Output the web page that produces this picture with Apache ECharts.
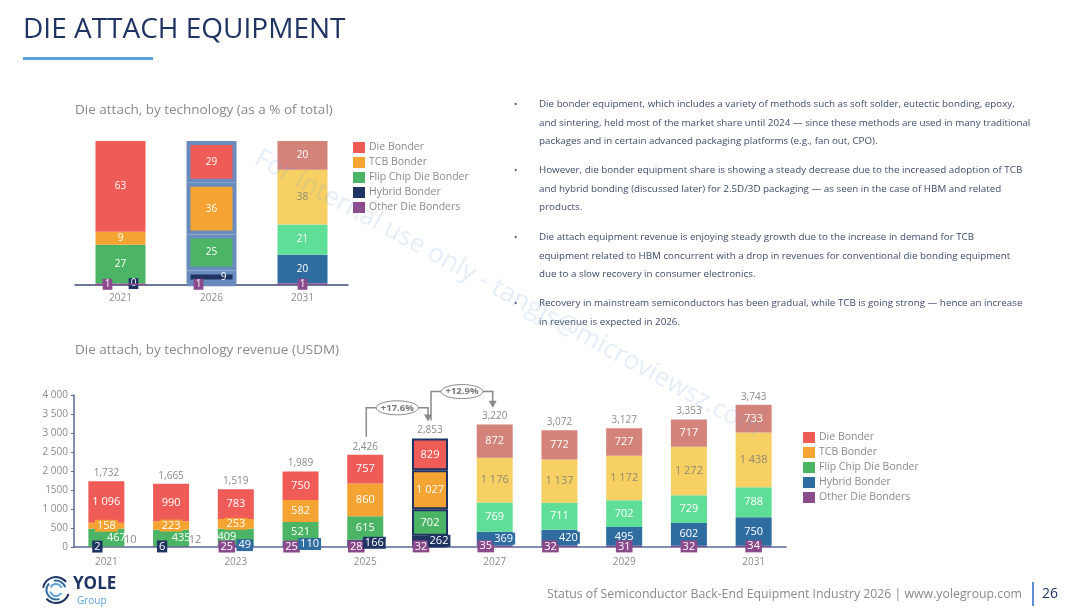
<!DOCTYPE html>
<html>
<head>
<meta charset="utf-8">
<script src="https://cdn.jsdelivr.net/npm/echarts@6/dist/echarts.min.js"></script>
<style>
html, body { margin: 0; padding: 0; background: #fff; }
#main { width: 1080px; height: 615px; }
</style>
</head>
<body>
<div id="main"></div>
<script>
// share of total (%)
var shareYears = ['2021', '2026', '2031'];
var shareDie = [63, 29, 20];
var shareTcb = [9, 36, 38];
var shareFlip = [27, 25, 21];
var shareHybrid = [0, 9, 20];
var shareOther = [1, 1, 1];

// revenue (USDM)
var years = ['2021', '2022', '2023', '2024', '2025', '2026', '2027', '2028', '2029', '2030', '2031'];
var dieBonder = [1096, 990, 783, 750, 757, 829, 872, 772, 727, 717, 733];
var tcbBonder = [158, 223, 253, 582, 860, 1027, 1176, 1137, 1172, 1272, 1438];
var flipChip = [467, 435, 409, 521, 615, 702, 769, 711, 702, 729, 788];
var hybridBonder = [2, 6, 49, 110, 166, 262, 369, 420, 495, 602, 750];
var otherBonders = [10, 12, 25, 25, 28, 32, 35, 32, 31, 32, 34];
var totals = [1732, 1665, 1519, 1989, 2426, 2853, 3220, 3072, 3127, 3353, 3743];
var yTickLabels = ['0', '500', '1 000', '1500', '2 000', '2 500', '3 000', '3 500', '4 000'];
var growth = [
	{ from: 4, to: 5, text: '+17.6%' },
	{ from: 5, to: 6, text: '+12.9%' }
];

var C = {
	die: '#EF5B57', tcb: '#F5A332', flip: '#4CB565', navy: '#1F3462', other: '#8B4A8C',
	dieF: '#D4837B', tcbF: '#F7D064', flipF: '#5FDE97', blue: '#2F6CA0'
};
var FONT = '"Open Sans", sans-serif';
var GRAY = '#8a8a8a';

function fmt(v) {
	return v >= 1000 ? Math.floor(v / 1000) + ' ' + String(v % 1000).padStart(3, '0') : String(v);
}

// ---- top chart data items ----
function shareColor(key, i) {
	var f = i === 2;
	if (key === 'die') return f ? C.dieF : C.die;
	if (key === 'tcb') return f ? C.tcbF : C.tcb;
	if (key === 'flip') return f ? C.flipF : C.flip;
	if (key === 'hybrid') return f ? C.blue : C.navy;
	return C.other;
}
function shareItems(vals, key) {
	return vals.map(function(v, i) {
		var it = { value: v, itemStyle: { color: shareColor(key, i) }, label: {} };
		if (i === 1) {
			it.itemStyle.borderColor = '#6A8BBE';
			it.itemStyle.borderWidth = 4;
		}
		if (key === 'tcb' && i === 2) it.label.color = '#8f8a70';
		if (key === 'other') {
			it.label = { backgroundColor: C.other, padding: [1, 2, 0, 2], offset: [i < 2 ? -13 : 0, 0] };
		}
		if (key === 'hybrid') {
			if (i === 0) it.label = { backgroundColor: C.navy, padding: [1, 2, 0, 2], offset: [13, 0] };
			if (i === 1) it.label = { offset: [12, 0] };
		}
		return it;
	});
}

// ---- bottom chart data items ----
function revColor(key, i) {
	var f = i >= 6;
	if (key === 'die') return f ? C.dieF : C.die;
	if (key === 'tcb') return f ? C.tcbF : C.tcb;
	if (key === 'flip') return f ? C.flipF : C.flip;
	if (key === 'hybrid') return [0, 1, 4, 5].indexOf(i) >= 0 ? C.navy : C.blue;
	return C.other;
}
function revItems(vals, key) {
	return vals.map(function(v, i) {
		var col = revColor(key, i);
		var it = { value: v, itemStyle: { color: col }, label: {} };
		if (i === 5) {
			it.itemStyle.borderColor = C.navy;
			it.itemStyle.borderWidth = 2;
		}
		if (key === 'tcb') {
			if (i < 3) it.label = { backgroundColor: col, padding: [1, 2, 0, 2] };
			if (i >= 6) it.label = { color: '#8f8a70' };
		}
		if (key === 'flip') {
			if (i < 2) it.label = { offset: [10, 0] };
			if (i === 2) it.label = { offset: [-9, 0] };
		}
		if (key === 'hybrid') {
			if (i < 2) it.label = { backgroundColor: col, padding: [1, 2, 0, 2], offset: [-9, 0] };
			else if (i < 8) it.label = { backgroundColor: col, padding: [1, 2, 0, 2], offset: [9, 0] };
		}
		if (key === 'other') {
			if (i < 2) it.label = { color: GRAY, offset: [24, -7] };
			else it.label = { backgroundColor: C.other, padding: [1, 2, 0, 2], offset: [i < 8 ? -9 : 0, 0] };
		}
		return it;
	});
}

var segLabel = {
	show: true, position: 'inside', color: '#fff', fontFamily: FONT, fontSize: 11,
	formatter: function(p) { return fmt(p.value); }
};
var shareLabel = {
	show: true, position: 'inside', color: '#fff', fontFamily: FONT, fontSize: 10,
	formatter: function(p) { return String(p.value); }
};

function legendData(hybridColor) {
	return [
		{ name: 'Die Bonder', itemStyle: { color: C.die } },
		{ name: 'TCB Bonder', itemStyle: { color: C.tcb } },
		{ name: 'Flip Chip Die Bonder', itemStyle: { color: C.flip } },
		{ name: 'Hybrid Bonder', itemStyle: { color: hybridColor } },
		{ name: 'Other Die Bonders', itemStyle: { color: C.other } }
	];
}
var legendBase = {
	orient: 'vertical', icon: 'rect', itemWidth: 12, itemHeight: 11, itemGap: 4,
	padding: 0, selectedMode: false,
	textStyle: { color: GRAY, fontFamily: FONT, fontSize: 10.5, padding: [0, 0, 0, -1] }
};

var option = {
	animation: false,
	textStyle: { fontFamily: FONT },
	grid: [
		{ left: 75, top: 141, width: 273, height: 144 },
		{ left: 74, top: 395, width: 712, height: 152 }
	],
	legend: [
		Object.assign({ left: 353, top: 142, data: legendData(C.navy) }, legendBase),
		Object.assign({ left: 803, top: 432, data: legendData(C.blue) }, legendBase)
	],
	xAxis: [{
		gridIndex: 0, type: 'category', data: shareYears,
		axisLine: { lineStyle: { color: '#3C4B73', width: 1.5 } },
		axisTick: { show: false },
		axisLabel: { color: GRAY, fontSize: 10, margin: 8 }
	}, {
		gridIndex: 1, type: 'category', data: years,
		axisLine: { lineStyle: { color: '#5A6A95', width: 1.5 } },
		axisTick: { show: false },
		axisLabel: { interval: 1, color: GRAY, fontSize: 10, margin: 10 }
	}],
	yAxis: [{
		gridIndex: 0, type: 'value', min: 0, max: 100, show: false
	}, {
		gridIndex: 1, type: 'value', min: 0, max: 4000, interval: 500,
		axisLine: { show: true, lineStyle: { color: '#5A6A95', width: 1.5 } },
		axisTick: { show: true, length: 3, lineStyle: { color: '#5A6A95' } },
		splitLine: { show: false },
		axisLabel: {
			color: GRAY, fontSize: 10, margin: 6,
			formatter: function(v, idx) { return yTickLabels[idx]; }
		}
	}],
	series: [
		// top chart, stacked from bottom
		{ name: 'Other Die Bonders', type: 'bar', stack: 'share', xAxisIndex: 0, yAxisIndex: 0, barWidth: 50, label: shareLabel, data: shareItems(shareOther, 'other'), z: 3 },
		{ name: 'Hybrid Bonder', type: 'bar', stack: 'share', xAxisIndex: 0, yAxisIndex: 0, barWidth: 50, label: shareLabel, data: shareItems(shareHybrid, 'hybrid') },
		{ name: 'Flip Chip Die Bonder', type: 'bar', stack: 'share', xAxisIndex: 0, yAxisIndex: 0, barWidth: 50, label: shareLabel, data: shareItems(shareFlip, 'flip') },
		{ name: 'TCB Bonder', type: 'bar', stack: 'share', xAxisIndex: 0, yAxisIndex: 0, barWidth: 50, label: shareLabel, data: shareItems(shareTcb, 'tcb') },
		{ name: 'Die Bonder', type: 'bar', stack: 'share', xAxisIndex: 0, yAxisIndex: 0, barWidth: 50, label: shareLabel, data: shareItems(shareDie, 'die') },
		// bottom chart
		{ name: 'Other Die Bonders', type: 'bar', stack: 'rev', xAxisIndex: 1, yAxisIndex: 1, barWidth: 36, label: segLabel, data: revItems(otherBonders, 'other') },
		{ name: 'Hybrid Bonder', type: 'bar', stack: 'rev', xAxisIndex: 1, yAxisIndex: 1, barWidth: 36, label: segLabel, data: revItems(hybridBonder, 'hybrid') },
		{ name: 'Flip Chip Die Bonder', type: 'bar', stack: 'rev', xAxisIndex: 1, yAxisIndex: 1, barWidth: 36, label: segLabel, data: revItems(flipChip, 'flip') },
		{ name: 'TCB Bonder', type: 'bar', stack: 'rev', xAxisIndex: 1, yAxisIndex: 1, barWidth: 36, label: segLabel, data: revItems(tcbBonder, 'tcb') },
		{ name: 'Die Bonder', type: 'bar', stack: 'rev', xAxisIndex: 1, yAxisIndex: 1, barWidth: 36, label: segLabel, data: revItems(dieBonder, 'die') },
		{
			name: 'Total', type: 'bar', xAxisIndex: 1, yAxisIndex: 1, barWidth: 36, barGap: '-100%',
			silent: true, itemStyle: { color: 'rgba(0,0,0,0)' }, z: 1,
			label: {
				show: true, position: 'top', distance: 3, color: GRAY, fontSize: 10,
				formatter: function(p) { return p.value.toLocaleString('en-US'); }
			},
			data: totals
		}
	]
};

var chart = echarts.init(document.getElementById('main'));
chart.setOption(option);

// ---- static slide text ----
var g = [];
function txt(x, y, s, font, fill, align, extra) {
	var el = { type: 'text', x: x, y: y, silent: true, style: { text: s, font: font, fill: fill, align: align || 'left', verticalAlign: 'middle' } };
	return Object.assign(el, extra || {});
}
g.push(txt(23, 30, 'DIE ATTACH EQUIPMENT', '400 28px ' + FONT, '#1F3462'));
g.push({ type: 'rect', silent: true, shape: { x: 23, y: 57, width: 130, height: 3 }, style: { fill: '#5FA3DB' } });
g.push(txt(75, 110, 'Die attach, by technology (as a % of total)', '13.5px ' + FONT, GRAY));
g.push(txt(75, 350, 'Die attach, by technology revenue (USDM)', '13.5px ' + FONT, GRAY));

var bullets = [
	{ y: 104, lines: ['Die bonder equipment, which includes a variety of methods such as soft solder, eutectic bonding, epoxy,',
		'and sintering, held most of the market share until 2024 \u2014 since these methods are used in many traditional',
		'packages and in certain advanced packaging platforms (e.g., fan out, CPO).'] },
	{ y: 170, lines: ['However, die bonder equipment share is showing a steady decrease due to the increased adoption of TCB',
		'and hybrid bonding (discussed later) for 2.5D/3D packaging \u2014 as seen in the case of HBM and related',
		'products.'] },
	{ y: 237, lines: ['Die attach equipment revenue is enjoying steady growth due to the increase in demand for TCB',
		'equipment related to HBM concurrent with a drop in revenues for conventional die bonding equipment',
		'due to a slow recovery in consumer electronics.'] },
	{ y: 303, lines: ['Recovery in mainstream semiconductors has been gradual, while TCB is going strong \u2014 hence an increase',
		'in revenue is expected in 2026.'] }
];
bullets.forEach(function(b) {
	g.push(txt(514, b.y, '\u2022', '9px ' + FONT, '#3F4B6B'));
	b.lines.forEach(function(l, k) {
		g.push(txt(539, b.y + k * 18.8, l, '9.8px ' + FONT, '#3F4B6B'));
	});
});

// growth callouts, positioned from the axes
growth.forEach(function(gr) {
	var a = chart.convertToPixel({ gridIndex: 1 }, [gr.from, totals[gr.from]]);
	var b = chart.convertToPixel({ gridIndex: 1 }, [gr.to, totals[gr.to]]);
	var x1 = a[0] + 1, y1 = a[1] - 18, yE = y1 - 29;
	var cx = x1 + 31, xA = b[0] - 2, yT = b[1] - 17;
	var ln = { stroke: '#8a8a8a', lineWidth: 1.5, fill: null };
	g.push({ type: 'polyline', silent: true, shape: { points: [[x1, y1], [x1, yE], [cx - 20, yE]] }, style: ln });
	g.push({ type: 'polyline', silent: true, shape: { points: [[cx + 20, yE], [xA, yE], [xA, yT - 6]] }, style: ln });
	g.push({ type: 'polygon', silent: true, shape: { points: [[xA - 4, yT - 7], [xA + 4, yT - 7], [xA, yT]] }, style: { fill: '#8a8a8a' } });
	g.push({ type: 'ellipse', silent: true, shape: { cx: cx, cy: yE, rx: 21, ry: 7 }, style: { fill: '#fff', stroke: '#8a8a8a', lineWidth: 1 } });
	g.push(txt(cx, yE, gr.text, 'bold 9.5px ' + FONT, '#777', 'center'));
});

// footer
g.push(txt(1022, 594, 'Status of Semiconductor Back-End Equipment Industry 2026 | www.yolegroup.com', '12.3px ' + FONT, GRAY, 'right'));
g.push({ type: 'line', silent: true, shape: { x1: 1033, y1: 582, x2: 1033, y2: 606 }, style: { stroke: '#5B8FD0', lineWidth: 2 } });
g.push(txt(1050, 594, '26', '14px ' + FONT, '#1F3462', 'center'));

// logo
[[13, '#1F3462', 0.3, 2.4], [13, '#1F3462', 3.3, 5.6], [9.5, '#2F6CA0', 1.2, 3.9], [9.5, '#2F6CA0', 4.5, 6.0], [6, '#5FA3DB', 0.5, 2.9], [6, '#5FA3DB', 3.6, 5.9]].forEach(function(r) {
	g.push({ type: 'arc', silent: true, shape: { cx: 56, cy: 590, r: r[0], startAngle: r[2], endAngle: r[3] }, style: { stroke: r[1], lineWidth: 2, fill: null } });
});
g.push(txt(73, 584, 'YOLE', 'bold 17px ' + FONT, '#1F3462'));
g.push(txt(77, 601, 'Group', '10px ' + FONT, '#5FA3DB'));

// watermark
g.push({ type: 'text', x: 508, y: 294, rotation: -0.5, silent: true, z: 100,
	style: { text: 'For internal use only - tangjs@microviewsz.com', font: '26px ' + FONT, fill: 'rgba(110,160,215,0.18)', align: 'center', verticalAlign: 'middle' } });

chart.setOption({ graphic: g });
</script>
</body>
</html>
